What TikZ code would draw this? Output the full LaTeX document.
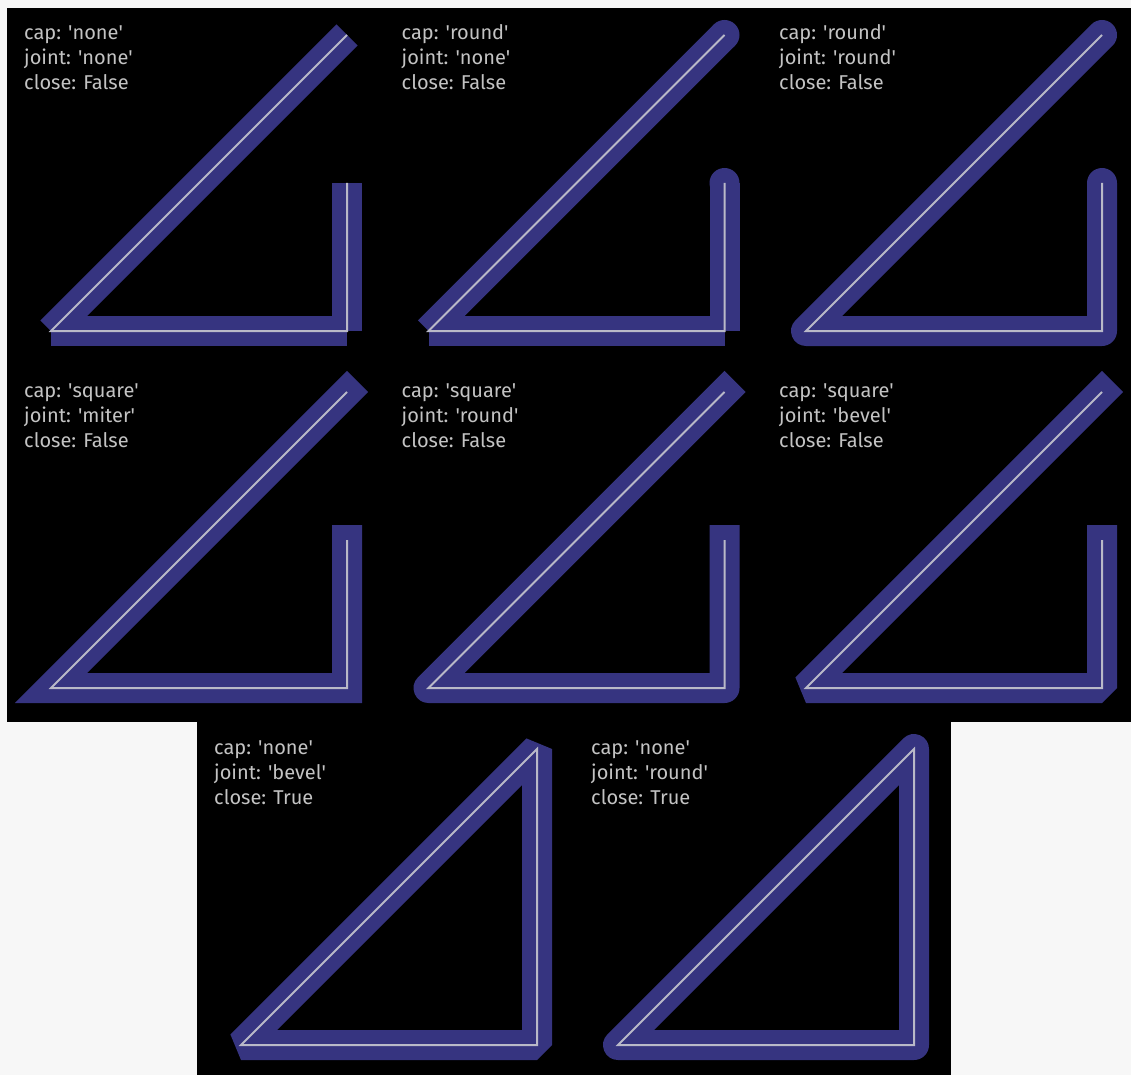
\documentclass[tikz,border=0pt]{standalone}
\usepackage{fontspec}
\setmainfont{Fira Sans}
\usepackage{xcolor}
\usepackage{tikz}
\definecolor{linkblue}{RGB}{54,52,128}
\definecolor{coregray}{RGB}{185,185,200}
\definecolor{textgray}{RGB}{195,195,195}
\definecolor{pagegray}{RGB}{247,247,247}
\newcommand{\sqt}{\textquotesingle}
% the four points of one panel, from its top left corner
\newcommand{\panelpts}[3]{%
  \coordinate (#1top) at (#2+340,#3+27);
  \coordinate (#1bl) at (#2+44,#3+323);
  \coordinate (#1br) at (#2+340,#3+323);
  \coordinate (#1up) at (#2+340,#3+175);
}
\tikzset{
  band/.style={draw=linkblue, line width=30pt},
  core/.style={draw=coregray, line width=2pt, line join=miter, line cap=butt},
  caption/.style={anchor=base west, inner sep=0pt, text=textgray, align=left,
    font=\fontsize{20}{25}\selectfont}
}

\begin{document}
\begin{tikzpicture}[x=1pt, y=-1pt]
  \useasboundingbox (0,0) rectangle (1131,1075);
  \fill[pagegray] (0,0) rectangle (1131,1075);
  \fill[black] (7,8) rectangle (1131,722);
  \fill[black] (197,722) rectangle (951,1075);
  \panelpts{a}{7}{8}
  \panelpts{b}{384.5}{8}
  \panelpts{c}{762}{8}
  \panelpts{d}{7}{365}
  \panelpts{e}{384.5}{365}
  \panelpts{f}{762}{365}
  \panelpts{g}{197}{722}
  \panelpts{h}{574}{722}

  % top row
  \foreach \s/\t in {top/bl, bl/br, br/up}
    \draw[band, line cap=butt] (a\s) -- (a\t);
  \draw[core] (atop) -- (abl) -- (abr) -- (aup);
  \node[caption] (atext) at (7+17,8+82) {cap: \sqt none\sqt\\joint: \sqt none\sqt\\close: False};

  \foreach \s/\t in {top/bl, bl/br, br/up}
    \draw[band, line cap=butt] (b\s) -- (b\t);
  \fill[linkblue] (btop) circle[radius=15pt];
  \fill[linkblue] (bup) circle[radius=15pt];
  \draw[core] (btop) -- (bbl) -- (bbr) -- (bup);
  \node[caption] (btext) at (384.5+17,8+82) {cap: \sqt round\sqt\\joint: \sqt none\sqt\\close: False};

  \draw[band, line cap=round, line join=round] (ctop) -- (cbl) -- (cbr) -- (cup);
  \draw[core] (ctop) -- (cbl) -- (cbr) -- (cup);
  \node[caption] (ctext) at (762+17,8+82) {cap: \sqt round\sqt\\joint: \sqt round\sqt\\close: False};

  % middle row
  \draw[band, line cap=rect, line join=miter] (dtop) -- (dbl) -- (dbr) -- (dup);
  \draw[core] (dtop) -- (dbl) -- (dbr) -- (dup);
  \node[caption] (dtext) at (7+17,365+82) {cap: \sqt square\sqt\\joint: \sqt miter\sqt\\close: False};

  \draw[band, line cap=rect, line join=round] (etop) -- (ebl) -- (ebr) -- (eup);
  \draw[core] (etop) -- (ebl) -- (ebr) -- (eup);
  \node[caption] (etext) at (384.5+17,365+82) {cap: \sqt square\sqt\\joint: \sqt round\sqt\\close: False};

  \draw[band, line cap=rect, line join=bevel] (ftop) -- (fbl) -- (fbr) -- (fup);
  \draw[core] (ftop) -- (fbl) -- (fbr) -- (fup);
  \node[caption] (ftext) at (762+17,365+82) {cap: \sqt square\sqt\\joint: \sqt bevel\sqt\\close: False};

  % bottom row, closed
  \draw[band, line join=bevel] (gtop) -- (gbl) -- (gbr) -- cycle;
  \draw[core] (gtop) -- (gbl) -- (gbr) -- cycle;
  \node[caption] (gtext) at (197+17,722+82) {cap: \sqt none\sqt\\joint: \sqt bevel\sqt\\close: True};

  \draw[band, line join=round] (htop) -- (hbl) -- (hbr) -- cycle;
  \draw[core] (htop) -- (hbl) -- (hbr) -- cycle;
  \node[caption] (htext) at (574+17,722+82) {cap: \sqt none\sqt\\joint: \sqt round\sqt\\close: True};
\end{tikzpicture}
\end{document}
